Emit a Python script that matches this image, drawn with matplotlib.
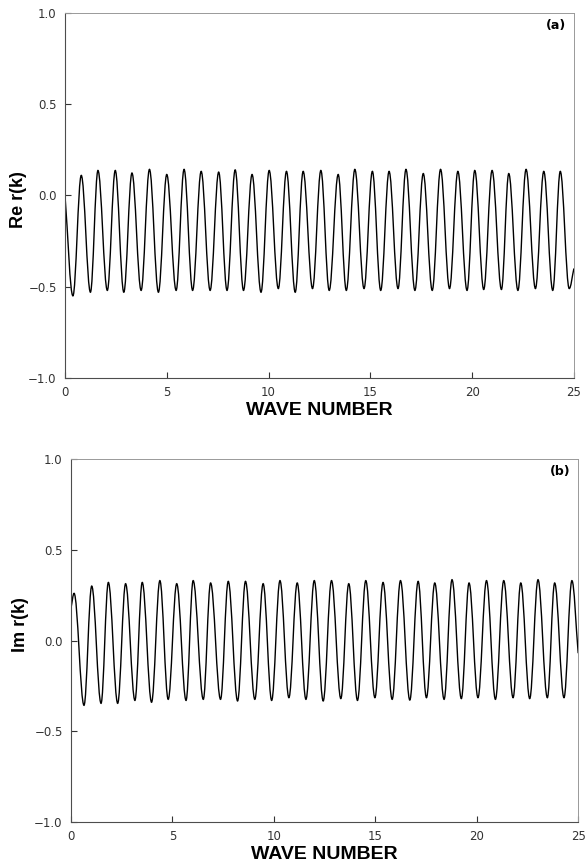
import matplotlib
matplotlib.use('Agg')
import matplotlib.pyplot as plt
from matplotlib.path import Path
from matplotlib.patches import PathPatch

# panel (a): Re r(k), turning points
re_k = [0.00, 0.39, 0.80, 1.25, 1.62, 2.08, 2.47, 2.89, 3.29, 3.74, 4.15, 4.59, 5.00,
        5.46, 5.85, 6.27, 6.69, 7.13, 7.55, 7.96, 8.36, 8.77, 9.19, 9.63, 10.03,
        10.48, 10.88, 11.31, 11.70, 12.16, 12.57, 12.98, 13.42, 13.82, 14.24, 14.69,
        15.10, 15.51, 15.92, 16.36, 16.75, 17.19, 17.60, 18.04, 18.45, 18.89, 19.30,
        19.75, 20.13, 20.57, 20.98, 21.44, 21.80, 22.25, 22.65, 23.11, 23.52, 23.96,
        24.33, 24.77, 25.00]
re_r = [0.00, -0.55, 0.110, -0.53, 0.137, -0.52, 0.137, -0.53, 0.123, -0.52, 0.143,
        -0.53, 0.115, -0.52, 0.143, -0.52, 0.132, -0.52, 0.128, -0.52, 0.140, -0.52,
        0.115, -0.53, 0.137, -0.51, 0.132, -0.53, 0.132, -0.51, 0.137, -0.52, 0.115,
        -0.52, 0.143, -0.51, 0.132, -0.52, 0.132, -0.51, 0.143, -0.52, 0.120, -0.52,
        0.143, -0.51, 0.132, -0.52, 0.137, -0.515, 0.137, -0.515, 0.120, -0.52, 0.143,
        -0.51, 0.132, -0.52, 0.132, -0.51, -0.40]

# panel (b): Im r(k)
im_k = [0.00, 0.15, 0.64, 1.02, 1.48, 1.84, 2.30, 2.69, 3.15, 3.51, 3.97, 4.38, 4.79,
        5.21, 5.67, 6.02, 6.52, 6.88, 7.37, 7.75, 8.21, 8.60, 9.06, 9.47, 9.89, 10.30,
        10.74, 11.15, 11.58, 11.99, 12.43, 12.84, 13.30, 13.69, 14.12, 14.53, 14.98,
        15.38, 15.83, 16.24, 16.70, 17.11, 17.52, 17.93, 18.39, 18.78, 19.24, 19.62,
        20.06, 20.48, 20.92, 21.33, 21.79, 22.17, 22.61, 23.02, 23.48, 23.84, 24.30,
        24.69, 25.00]
im_r = [0.18, 0.26, -0.357, 0.300, -0.346, 0.320, -0.346, 0.313, -0.330, 0.320, -0.340,
        0.330, -0.324, 0.313, -0.330, 0.330, -0.324, 0.317, -0.324, 0.326, -0.333,
        0.326, -0.324, 0.313, -0.330, 0.330, -0.315, 0.317, -0.324, 0.330, -0.333,
        0.330, -0.320, 0.313, -0.330, 0.330, -0.315, 0.320, -0.324, 0.330, -0.328,
        0.326, -0.315, 0.317, -0.324, 0.335, -0.320, 0.317, -0.315, 0.330, -0.324,
        0.330, -0.315, 0.317, -0.320, 0.335, -0.315, 0.317, -0.315, 0.330, -0.07]

xticks = [0, 5, 10, 15, 20, 25]
yticks = [-1.0, -0.5, 0.0, 0.5, 1.0]
ylabels = ['Re r(k)', 'Im r(k)']
tags = ['(a)', '(b)']


def smooth(xs, ys):
    # cubic segments with flat tangents at the turning points
    verts = [(xs[0], ys[0])]
    codes = [Path.MOVETO]
    n = len(xs)
    for i in range(n - 1):
        dx = xs[i+1] - xs[i]
        dy = ys[i+1] - ys[i]
        c1 = (xs[i] + 0.364*dx, ys[i] + (0.364*dy if i == 0 else 0))
        c2 = (xs[i+1] - 0.364*dx, ys[i+1] - (0.364*dy if i == n - 2 else 0))
        verts += [c1, c2, (xs[i+1], ys[i+1])]
        codes += [Path.CURVE4]*3
    return Path(verts, codes)


fig = plt.figure(figsize=(5.87, 8.63), dpi=100)
ax1 = fig.add_axes([0.1107, 0.562, 0.867, 0.423])
ax2 = fig.add_axes([0.121, 0.0475, 0.864, 0.4206])

for ax, ks, rs, lab, tag in [(ax1, re_k, re_r, ylabels[0], tags[0]),
                             (ax2, im_k, im_r, ylabels[1], tags[1])]:
    ax.add_patch(PathPatch(smooth(ks, rs), fill=False, lw=1.0, color='black'))
    ax.set_xlim(0, 25)
    ax.set_ylim(-1, 1)
    ax.set_xticks(xticks)
    ax.set_yticks(yticks)
    ax.set_xticklabels([str(t) for t in xticks])
    ax.set_yticklabels(['\u22121.0', '\u22120.5', '0.0', '0.5', '1.0'])
    ax.tick_params(direction='in', length=4, width=0.8, labelsize=8.5,
                   colors='0.2', pad=6)
    for s in ['left', 'bottom']:
        ax.spines[s].set_color('0.3')
        ax.spines[s].set_linewidth(0.8)
    for s in ['top', 'right']:
        ax.spines[s].set_color('0.6')
        ax.spines[s].set_linewidth(0.7)
    ax.set_xlabel('WAVE NUMBER', family='Liberation Sans', weight='bold',
                  size=14, labelpad=2)
    ax.set_ylabel(lab, family='Liberation Sans', weight='bold', size=13, labelpad=1)
    ax.text(0.985, 0.965, tag, transform=ax.transAxes, ha='right', va='center',
            size=9, weight='bold')

ax1.yaxis.set_label_coords(-0.075, 0.49)
ax2.yaxis.set_label_coords(-0.082, 0.545)

fig.savefig('out.png', dpi=100)
